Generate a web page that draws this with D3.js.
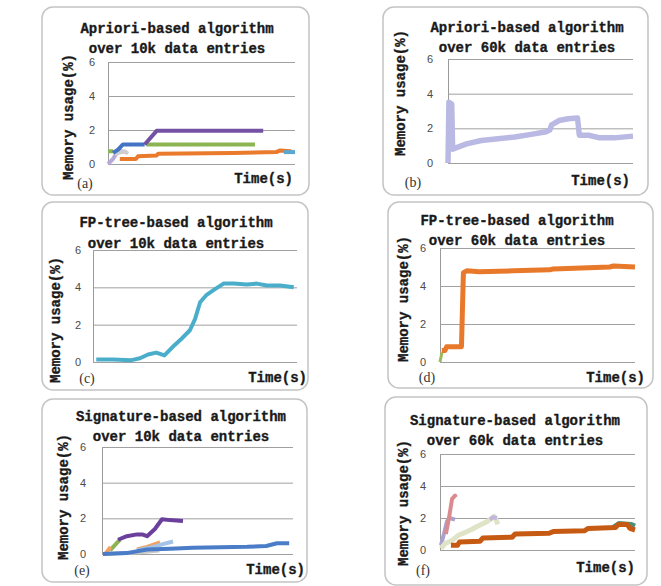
<!DOCTYPE html>
<html>
<head>
<meta charset="utf-8">
<script src="https://cdn.jsdelivr.net/npm/d3@7"></script>
<style>
  body { margin: 0; background: #fff; }
  svg { display: block; }
</style>
</head>
<body>
<script>
"use strict"

// y axis ticks shared by all six panels
const yTicks = [0, 2, 4, 6]

// x is the position along the time axis, in percent of the run
// (a) Apriori, 10k entries
const aLilac = [[0, 0], [2.7, 0.3], [5.4, 0.8], [9, 0.7]]
const aGray = [[3.6, 0.6], [9, 0.75], [10.7, 0.6]]
const aGreen1 = [[0, 0.75], [2.7, 0.75]]
const aBlue = [[2.7, 0.65], [5.4, 0.85], [8, 1.15], [19.6, 1.15]]
const aGreen2 = [[20.5, 1.15], [78.6, 1.15]]
const aPurple = [[19.6, 1.15], [26, 1.95], [83, 1.95]]
const aOrange = [[6.3, 0.3], [15, 0.3], [16, 0.45], [26, 0.5], [26.8, 0.6], [67, 0.65], [90, 0.7], [92, 0.8], [98, 0.75]]
const aTeal = [[94, 0.7], [100, 0.7]]

// (b) Apriori, 60k entries
const bGreen = [[0, 0], [0.5, 2.0], [1, 1.2]]
const bLilac = [[0, 0], [0.5, 3.5], [2, 3.4], [2.5, 0.8], [10, 1.1], [18, 1.3], [27, 1.4], [36, 1.5],
  [45, 1.65], [53, 1.8], [55, 1.9], [56, 2.2], [60, 2.45], [65, 2.55], [70, 2.6], [71, 1.6],
  [76, 1.6], [82, 1.45], [90, 1.45], [100, 1.55]]

// (c) FP-tree, 10k entries
const cTeal = [[1.6, 0.13], [9.8, 0.13], [18.9, 0.1], [23, 0.2], [27, 0.4], [31, 0.5], [35, 0.35],
  [39, 0.8], [43, 1.2], [47.5, 1.7], [50, 2.3], [52.5, 3.2], [55.7, 3.6], [59.8, 3.9], [64, 4.2],
  [68.9, 4.2], [75.4, 4.15], [80.3, 4.2], [85.2, 4.1], [91.8, 4.1], [98.4, 4.0]]

// (d) FP-tree, 60k entries
const dGreen = [[0, 0], [1, 0.5]]
const dOrange = [[0.9, 0.6], [2.5, 0.6], [3.4, 0.8], [11, 0.8], [12, 4.7], [13.7, 4.8], [20, 4.75],
  [37.6, 4.8], [56.4, 4.85], [58, 4.9], [87, 5.0], [89, 5.05], [100, 5.0]]

// (e) Signature, 10k entries
const eGray = [[0.5, 0], [20, 0.1], [30, 0.2]]
const eGreen = [[4.2, 0.2], [9.4, 0.8]]
const eOrange1 = [[2, 0.05], [4.5, 0.4]]
const ePurple = [[8.4, 0.8], [13, 1.0], [18.3, 1.1], [21, 1.1], [23.6, 1.0], [27.7, 1.4], [31.4, 1.95], [35.6, 1.9], [42.4, 1.85]]
const eOrange2 = [[18.3, 0.25], [23.6, 0.4], [30.4, 0.65]]
const eLightBlue = [[18.3, 0.2], [26.7, 0.4], [31.9, 0.55], [37.2, 0.7]]
const eBlue = [[0.5, 0], [13, 0.05], [23.6, 0.25], [35.6, 0.3], [47.6, 0.35], [76, 0.4], [86, 0.45], [91.6, 0.6], [98, 0.6]]

// (f) Signature, 60k entries
const fLilac = [[0.5, 0.3], [2, 1.0], [3.6, 1.8], [5, 2.0], [7.7, 1.9]]
const fPink = [[3, 1.0], [4.6, 2.0], [6.2, 3.2], [7.7, 3.4], [8.2, 3.3]]
const fBeige = [[0.5, 0.1], [2.6, 0.4], [6.2, 0.6], [9.2, 0.9], [12.8, 1.1], [16.4, 1.3], [19.5, 1.5],
  [23, 1.7], [25.6, 1.9], [27.7, 2.1], [28.7, 1.9], [29.7, 1.6]]
const fLilac2 = [[25.6, 1.9], [27.2, 2.05], [29.2, 2.0]]
const fTeal = [[88.7, 1.4], [91.8, 1.65], [97.9, 1.6], [100, 1.5]]
const fOrange = [[5.6, 0.3], [9, 0.3], [10, 0.5], [20.5, 0.55], [22, 0.75], [37, 0.8], [38.5, 1.0],
  [56, 1.05], [58, 1.15], [74, 1.2], [76, 1.35], [90, 1.4], [91.5, 1.6], [96, 1.6], [97.4, 1.35], [100, 1.25]]

const panels = [
  { tag: '(a)', title: ['Apriori-based algorithm', 'over 10k data entries'],
    box: [42, 7, 267, 188], plot: [108, 295, 62, 164], tx: 177, ty: [28, 48],
    tickX: 92, yt: [68, 117], lab: [85, 183], time: [293, 178],
    series: [[aLilac, '#b7a9d8', 4], [aGray, '#cfcfcf', 4], [aGreen1, '#8db453', 4], [aBlue, '#4472c4', 4],
      [aGreen2, '#8db453', 4], [aPurple, '#7451a3', 4], [aOrange, '#ea7a2c', 4], [aTeal, '#5aa7d0', 4]] },
  { tag: '(b)', title: ['Apriori-based algorithm', 'over 60k data entries'],
    box: [383, 7, 265, 188], plot: [448, 633, 59, 163], tx: 527, ty: [27, 47],
    tickX: 430, yt: [400, 93], lab: [413, 182], time: [630, 180],
    series: [[bGreen, '#d3e0a8', 4], [bLilac, '#b9b9e3', 5.5]] },
  { tag: '(c)', title: ['FP-tree-based algorithm', 'over 10k data entries'],
    box: [42, 202, 266, 188], plot: [93, 297, 250, 362], tx: 176, ty: [222, 243],
    tickX: 78, yt: [55, 320], lab: [87, 378], time: [307, 377],
    series: [[cTeal, '#4aaecb', 4]] },
  { tag: '(d)', title: ['FP-tree-based algorithm', 'over 60k data entries'],
    box: [388, 202, 265, 186], plot: [440, 635, 248, 362], tx: 517, ty: [220, 240],
    tickX: 423, yt: [403, 299], lab: [427, 377], time: [645, 377],
    series: [[dGreen, '#9bbb59', 3], [dOrange, '#e8792a', 5]] },
  { tag: '(e)', title: ['Signature-based algorithm', 'over 10k data entries'],
    box: [42, 399, 265, 183], plot: [102, 293, 447, 554], tx: 181, ty: [416, 436],
    tickX: 83, yt: [63, 497], lab: [82, 570], time: [305, 569],
    series: [[eGray, '#c9c9c9', 4], [eGreen, '#8db453', 4], [eOrange1, '#f2a25e', 4], [ePurple, '#6b3f9c', 4],
      [eOrange2, '#f2a25e', 4], [eLightBlue, '#a3c4e6', 4], [eBlue, '#4a7cc8', 4]] },
  { tag: '(f)', title: ['Signature-based algorithm', 'over 60k data entries'],
    box: [385, 397, 262, 188], plot: [440, 635, 454, 550], tx: 515, ty: [420, 440],
    tickX: 423, yt: [403, 503], lab: [423, 570], time: [635, 567],
    series: [[fLilac, '#a7a2d2', 4], [fPink, '#d98b8e', 4], [fBeige, '#dfe4c6', 5], [fLilac2, '#c2b6dc', 4],
      [fTeal, '#4e8f7e', 5], [fOrange, '#c65a12', 5]] }
]

const svg = d3.select('body')
  .append('svg')
    .attr('width', 661)
    .attr('height', 586)

svg.append('rect')
  .attr('width', 661)
  .attr('height', 586)
  .attr('fill', '#fff')

const mono = '"Liberation Mono", "DejaVu Sans Mono", monospace'

// the scanned labels look heavier than a plain bold face, so add a thin outline
const heavy = sel => sel
  .style('font', `bold 14px ${mono}`)
  .attr('fill', '#1a1a1a')
  .attr('stroke', '#1a1a1a')
  .attr('stroke-width', 0.35)

panels.forEach(p => {
  const g = svg.append('g')
  const [l, r, t, b] = p.plot

  g.append('rect')
    .attr('x', p.box[0])
    .attr('y', p.box[1])
    .attr('width', p.box[2])
    .attr('height', p.box[3])
    .attr('rx', 11)
    .attr('fill', '#fff')
    .attr('stroke', '#c4c4c4')
    .attr('stroke-width', 1.5)

  const x = d3.scaleLinear([0, 100], [l, r])
  const y = d3.scaleLinear([0, 6], [b, t])

  const yAxis = d3.axisLeft(y)
    .tickValues(yTicks)
    .tickSize(-(r - l))
    .tickPadding(l - p.tickX - 3)
    .tickFormat(d3.format('d'))

  const ax = g.append('g')
    .attr('transform', `translate(${l},0)`)
    .call(yAxis)
  ax.select('.domain').attr('stroke', '#9a9a9a')
  ax.selectAll('.tick line').attr('stroke', '#a0a0a0')
  ax.selectAll('.tick text')
    .attr('fill', '#4a4a4a')
    .style('font', '11px "Liberation Sans", Arial, sans-serif')

  const line = d3.line()
    .x(d => x(d[0]))
    .y(d => y(d[1]))

  p.series.forEach(([data, color, w]) => {
    g.append('path')
      .datum(data)
      .attr('d', line)
      .attr('fill', 'none')
      .attr('stroke', color)
      .attr('stroke-width', w)
      .attr('stroke-linejoin', 'round')
  })

  p.title.forEach((txt, i) => {
    g.append('text')
      .attr('x', p.tx)
      .attr('y', p.ty[i])
      .attr('dy', '0.35em')
      .attr('text-anchor', 'middle')
      .call(heavy)
      .text(txt)
  })

  g.append('text')
    .attr('transform', `translate(${p.yt[0]},${p.yt[1]}) rotate(-90)`)
    .attr('dy', '0.35em')
    .attr('text-anchor', 'middle')
    .call(heavy)
    .text('Memory usage(%)')

  g.append('text')
    .attr('x', p.lab[0])
    .attr('y', p.lab[1])
    .attr('dy', '0.35em')
    .attr('text-anchor', 'middle')
    .style('font', '14px "Liberation Serif", "DejaVu Serif", serif')
    .attr('fill', '#333')
    .text(p.tag)

  g.append('text')
    .attr('x', p.time[0])
    .attr('y', p.time[1])
    .attr('dy', '0.35em')
    .attr('text-anchor', 'end')
    .call(heavy)
    .text('Time(s)')
})
</script>
</body>
</html>
